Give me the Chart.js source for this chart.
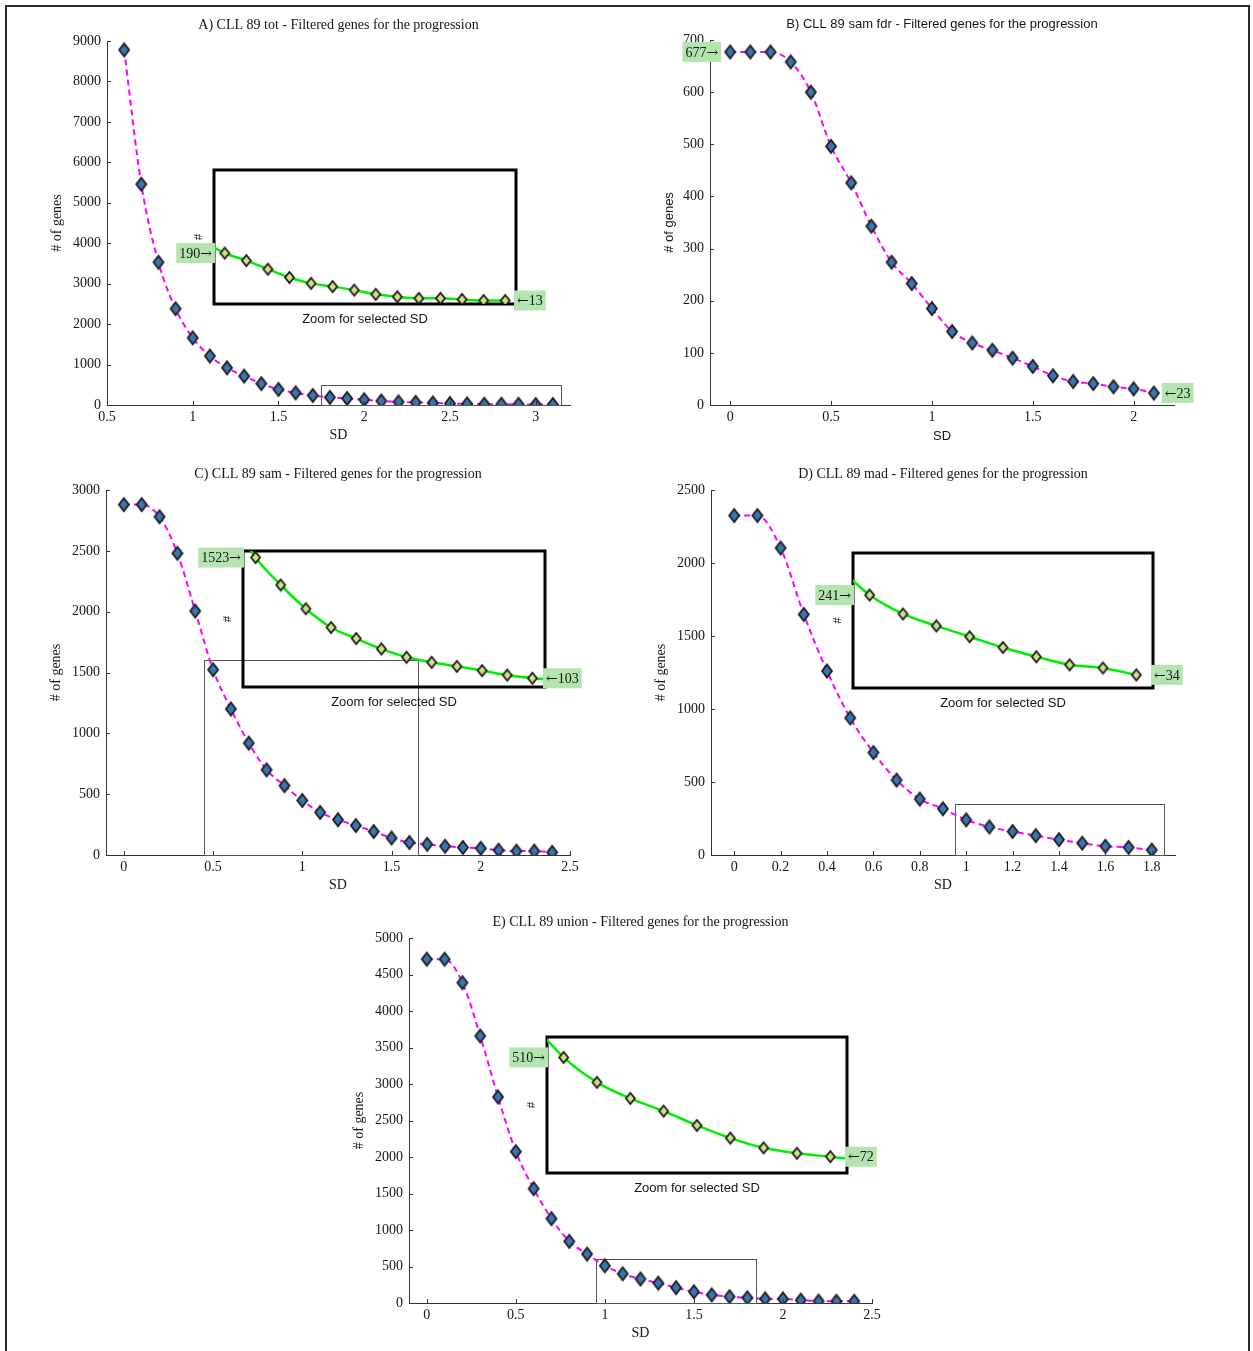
<!DOCTYPE html>
<html>
<head>
<meta charset="utf-8">
<title>CLL 89 - Filtered genes for the progression</title>
<script src="https://cdn.jsdelivr.net/npm/chart.js@4.4.1/dist/chart.umd.min.js"></script>
<style>
    body { margin: 0; background: #fff; }
    #page { position: relative; width: 1253px; height: 1351px; overflow: hidden; background: #fff; }
    #frame { position: absolute; left: 5px; top: 5px; width: 1241px; height: 1400px; border: 2px solid #2a2a2a; }
    canvas { position: absolute; }
</style>
</head>
<body>
<div id="page"><div id="frame"></div></div>
<script>
"use strict";

// ---- Data ----
// A) tot
const sdA    = [0.6, 0.7, 0.8, 0.9, 1.0, 1.1, 1.2, 1.3, 1.4, 1.5, 1.6, 1.7, 1.8, 1.9, 2.0, 2.1, 2.2, 2.3, 2.4, 2.5, 2.6, 2.7, 2.8, 2.9, 3.0, 3.1];
const genesA = [8780, 5460, 3530, 2380, 1660, 1210, 920, 715, 530, 385, 300, 235, 190, 162, 130, 99, 77, 65, 52, 36, 27, 21, 21, 17, 13, 13];
// B) sam fdr
const sdB    = [0, 0.1, 0.2, 0.3, 0.4, 0.5, 0.6, 0.7, 0.8, 0.9, 1.0, 1.1, 1.2, 1.3, 1.4, 1.5, 1.6, 1.7, 1.8, 1.9, 2.0, 2.1];
const genesB = [677, 677, 677, 658, 600, 496, 426, 343, 274, 233, 185, 141, 119, 105, 90, 74, 56, 45, 41, 35, 31, 23];
// C) sam
const sdC    = [0, 0.1, 0.2, 0.3, 0.4, 0.5, 0.6, 0.7, 0.8, 0.9, 1.0, 1.1, 1.2, 1.3, 1.4, 1.5, 1.6, 1.7, 1.8, 1.9, 2.0, 2.1, 2.2, 2.3, 2.4];
const genesC = [2880, 2880, 2780, 2480, 2005, 1523, 1200, 920, 700, 570, 448, 350, 290, 242, 193, 140, 103, 88, 72, 62, 55, 40, 32, 32, 22];
// D) mad
const sdD    = [0, 0.1, 0.2, 0.3, 0.4, 0.5, 0.6, 0.7, 0.8, 0.9, 1.0, 1.1, 1.2, 1.3, 1.4, 1.5, 1.6, 1.7, 1.8];
const genesD = [2325, 2325, 2103, 1648, 1260, 939, 702, 513, 383, 317, 241, 192, 161, 133, 105, 81, 60, 52, 34];
// E) union
const sdE    = [0, 0.1, 0.2, 0.3, 0.4, 0.5, 0.6, 0.7, 0.8, 0.9, 1.0, 1.1, 1.2, 1.3, 1.4, 1.5, 1.6, 1.7, 1.8, 1.9, 2.0, 2.1, 2.2, 2.3, 2.4];
const genesE = [4710, 4710, 4388, 3658, 2822, 2073, 1566, 1155, 845, 671, 510, 400, 329, 273, 210, 154, 111, 87, 72, 57, 55, 40, 26, 24, 24];

// Zoomed regions (x range, y range) shown in the insets
const zoomA = { x: [1.75, 3.15], y: [0, 500] };
const zoomC = { x: [0.45, 1.65], y: [0, 1600] };
const zoomD = { x: [0.95, 1.85], y: [0, 350] };
const zoomE = { x: [0.95, 1.85], y: [0, 600] };

// Tick labels
const xTicksA = [0.5, 1, 1.5, 2, 2.5, 3];
const yTicksA = [0, 1000, 2000, 3000, 4000, 5000, 6000, 7000, 8000, 9000];
const xTicksB = [0, 0.5, 1, 1.5, 2];
const yTicksB = [0, 100, 200, 300, 400, 500, 600, 700];
const xTicksC = [0, 0.5, 1, 1.5, 2, 2.5];
const yTicksC = [0, 500, 1000, 1500, 2000, 2500, 3000];
const xTicksD = [0, 0.2, 0.4, 0.6, 0.8, 1, 1.2, 1.4, 1.6, 1.8];
const yTicksD = [0, 500, 1000, 1500, 2000, 2500];
const xTicksE = [0, 0.5, 1, 1.5, 2, 2.5];
const yTicksE = [0, 500, 1000, 1500, 2000, 2500, 3000, 3500, 4000, 4500, 5000];

// ---- Styling ----
const SERIF = "'Liberation Serif', 'Times New Roman', serif";
const SANS = "'Liberation Sans', Arial, sans-serif";
const TEXT = "#151515";

// MATLAB-like diamond markers (a bit taller than wide)
function diamond(fill, w, h) {
    const c = document.createElement("canvas");
    c.width = w + 4;
    c.height = h + 4;
    const g = c.getContext("2d");
    const cx = c.width / 2, cy = c.height / 2;
    g.beginPath();
    g.moveTo(cx, cy - h / 2);
    g.lineTo(cx + w / 2, cy);
    g.lineTo(cx, cy + h / 2);
    g.lineTo(cx - w / 2, cy);
    g.closePath();
    g.fillStyle = fill;
    g.fill();
    g.lineWidth = 1.8;
    g.strokeStyle = "#1b1b1b";
    g.stroke();
    return c;
}
const blueDiamond = diamond("#3b74b2", 10, 13);
const limeDiamond = diamond("#d2e083", 9, 11);

function makeCanvas(left, top, width, height) {
    const c = document.createElement("canvas");
    c.width = width;
    c.height = height;
    c.style.left = left + "px";
    c.style.top = top + "px";
    c.style.width = width + "px";
    c.style.height = height + "px";
    document.getElementById("page").appendChild(c);
    return c;
}

// ---- Small plugins ----
const panelTitle = {
    id: "panelTitle",
    afterDraw(chart, args, opts) {
        if (!opts.text) return;
        const { ctx, chartArea } = chart;
        ctx.save();
        ctx.font = opts.font;
        ctx.fillStyle = TEXT;
        ctx.textAlign = "center";
        ctx.textBaseline = "middle";
        ctx.fillText(opts.text, (chartArea.left + chartArea.right) / 2, chartArea.top - 16);
        ctx.restore();
    }
};

// inward tick marks, like MATLAB axes
const inTicks = {
    id: "inTicks",
    afterDraw(chart) {
        const { ctx, chartArea, scales } = chart;
        ctx.save();
        ctx.strokeStyle = "#333";
        ctx.lineWidth = 1;
        ctx.beginPath();
        scales.x.ticks.forEach(t => {
            const px = Math.round(scales.x.getPixelForValue(t.value)) + 0.5;
            ctx.moveTo(px, chartArea.bottom);
            ctx.lineTo(px, chartArea.bottom - 4);
        });
        scales.y.ticks.forEach(t => {
            const py = Math.round(scales.y.getPixelForValue(t.value)) + 0.5;
            ctx.moveTo(chartArea.left, py);
            ctx.lineTo(chartArea.left + 4, py);
        });
        ctx.stroke();
        ctx.restore();
    }
};

// thin rectangle marking the zoomed region
const zoomRect = {
    id: "zoomRect",
    beforeDatasetsDraw(chart, args, opts) {
        if (!opts.x) return;
        const { ctx, scales: { x, y } } = chart;
        const x0 = x.getPixelForValue(opts.x[0]), x1 = x.getPixelForValue(opts.x[1]);
        const y0 = y.getPixelForValue(opts.y[0]), y1 = y.getPixelForValue(opts.y[1]);
        ctx.save();
        ctx.strokeStyle = "#555";
        ctx.lineWidth = 1;
        ctx.strokeRect(Math.round(x0) + 0.5, Math.round(y1) + 0.5, Math.round(x1 - x0), Math.round(y0 - y1));
        ctx.restore();
    }
};

// thick black box round the inset
const insetFrame = {
    id: "insetFrame",
    beforeDatasetsDraw(chart) {
        const { ctx, chartArea: a } = chart;
        ctx.save();
        ctx.strokeStyle = "#000";
        ctx.lineWidth = 3;
        ctx.strokeRect(a.left, a.top, a.right - a.left, a.bottom - a.top);
        ctx.restore();
    }
};

// number in Times-like font, arrow from DejaVu (wider glyph, closer to the original)
function drawTag(ctx, num, arrowFirst, x, y, alignRight) {
    const numFont = "14px " + SERIF;
    const arrowFont = "14px 'DejaVu Serif', serif";
    const arrow = arrowFirst ? "\u2190" : "\u2192";
    ctx.save();
    ctx.font = numFont;
    const wn = ctx.measureText(num).width;
    ctx.font = arrowFont;
    const wa = ctx.measureText(arrow).width;
    const w = wn + wa + 6, h = 20;
    const left = alignRight ? x - w : x;
    ctx.fillStyle = "#b4e4b0";
    ctx.fillRect(left, y - h / 2, w, h);
    ctx.fillStyle = TEXT;
    ctx.textAlign = "left";
    ctx.textBaseline = "middle";
    if (arrowFirst) {
        ctx.font = arrowFont;
        ctx.fillText(arrow, left + 3, y + 1);
        ctx.font = numFont;
        ctx.fillText(num, left + 3 + wa, y + 1);
    } else {
        ctx.font = numFont;
        ctx.fillText(num, left + 3, y + 1);
        ctx.font = arrowFont;
        ctx.fillText(arrow, left + 3 + wn, y + 1);
    }
    ctx.restore();
}

// green tags with first / last visible value
const endTags = {
    id: "endTags",
    afterDraw(chart, args, opts) {
        if (!opts.mode) return;
        const { ctx, chartArea } = chart;
        const raw = chart.data.datasets[0].data;
        const vis = chart.getDatasetMeta(0).data
            .map((pt, i) => ({ pt, v: raw[i].y }))
            .filter(o => o.pt.x >= chartArea.left - 0.5 && o.pt.x <= chartArea.right + 0.5);
        const first = vis[0], last = vis[vis.length - 1];
        let lx, rx;
        if (opts.mode === "point") {
            lx = first.pt.x - 9;
            rx = last.pt.x + 8;
        } else {
            lx = chartArea.left + 1;
            rx = chartArea.right - 2;
        }
        drawTag(ctx, String(first.v), false, lx, first.pt.y, true);
        drawTag(ctx, String(last.v), true, rx, last.pt.y, false);
    }
};

const points = (sd, genes) => sd.map((x, i) => ({ x: x, y: genes[i] }));

// ---- Main panels ----
function mainChart(p) {
    const padL = 62, padT = 30, padR = 34, padB = 46;
    const [l, t, r, b] = p.area;
    const canvas = makeCanvas(l - padL, t - padT, r - l + padL + padR, b - t + padT + padB);
    const labelFont = { family: p.sans ? SANS : SERIF, size: p.sans ? 13 : 14 };
    const tickFont = { family: SERIF, size: 14 };

    new Chart(canvas, {
        type: "line",
        data: {
            datasets: [{
                data: points(p.sd, p.genes),
                borderColor: "#ff00ff",
                borderWidth: 2,
                borderDash: [6, 4],
                cubicInterpolationMode: "monotone",
                pointStyle: blueDiamond,
                pointRadius: 6,
                fill: false
            }]
        },
        options: {
            responsive: false,
            animation: false,
            events: [],
            devicePixelRatio: 1,
            layout: { padding: { left: 0, top: padT, right: padR, bottom: 0 }, autoPadding: false },
            scales: {
                x: {
                    type: "linear",
                    min: p.xRange[0],
                    max: p.xRange[1],
                    afterBuildTicks: s => { s.ticks = p.xTicks.map(v => ({ value: v })); },
                    afterFit: s => { s.height = padB; },
                    grid: { display: false, drawTicks: false },
                    border: { color: "#333", width: 1 },
                    ticks: { font: tickFont, color: TEXT, padding: 4, autoSkip: false, maxRotation: 0, callback: v => String(v) },
                    title: { display: true, text: "SD", font: labelFont, color: TEXT, padding: { top: 0, bottom: 7 } }
                },
                y: {
                    type: "linear",
                    min: p.yTicks[0],
                    max: p.yTicks[p.yTicks.length - 1],
                    afterBuildTicks: s => { s.ticks = p.yTicks.map(v => ({ value: v })); },
                    afterFit: s => { s.width = padL; },
                    grid: { display: false, drawTicks: false },
                    border: { color: "#333", width: 1 },
                    ticks: { font: tickFont, color: TEXT, padding: 6, autoSkip: false, callback: v => String(v) },
                    title: { display: true, text: "# of genes", font: labelFont, color: TEXT, padding: { top: p.sans ? 14 : 4, bottom: 0 } }
                }
            },
            plugins: {
                legend: { display: false },
                tooltip: { enabled: false },
                panelTitle: { text: p.title, font: p.sans ? "13px " + SANS : "14px " + SERIF },
                zoomRect: p.zoom || false,
                endTags: p.tags ? { mode: "point" } : false
            }
        },
        plugins: [zoomRect, inTicks, panelTitle, endTags]
    });
}

// ---- Inset panels ----
function insetChart(p) {
    const padL = 50, padT = 6, padR = 46, padB = 30;
    const [l, t, r, b] = p.area;
    const canvas = makeCanvas(l - padL, t - padT, r - l + padL + padR, b - t + padT + padB);

    new Chart(canvas, {
        type: "line",
        data: {
            datasets: [{
                data: points(p.sd, p.genes),
                borderColor: "#00ee00",
                borderWidth: 2.5,
                cubicInterpolationMode: "monotone",
                pointStyle: limeDiamond,
                pointRadius: 6,
                fill: false
            }]
        },
        options: {
            responsive: false,
            animation: false,
            events: [],
            devicePixelRatio: 1,
            layout: { padding: { left: 0, top: padT, right: padR, bottom: 0 }, autoPadding: false },
            scales: {
                x: {
                    type: "linear",
                    min: p.zoom.x[0],
                    max: p.zoom.x[1],
                    afterFit: s => { s.height = padB; },
                    grid: { display: false, drawTicks: false },
                    border: { display: false },
                    ticks: { display: false },
                    title: { display: true, text: "Zoom for selected SD", font: { family: SANS, size: 13 }, color: TEXT, padding: { top: 0, bottom: 7 } }
                },
                y: {
                    type: "linear",
                    min: p.zoom.y[0],
                    max: p.zoom.y[1],
                    afterFit: s => { s.width = padL; },
                    grid: { display: false, drawTicks: false },
                    border: { display: false },
                    ticks: { display: false },
                    title: { display: true, text: "#", font: { family: SERIF, size: 13 }, color: TEXT, padding: { top: 27, bottom: 0 } }
                }
            },
            plugins: {
                legend: { display: false },
                tooltip: { enabled: false },
                endTags: { mode: "area" }
            }
        },
        plugins: [insetFrame, endTags]
    });
}

// plot areas: [left, top, right, bottom] in page pixels
mainChart({ title: "A) CLL 89 tot - Filtered genes for the progression", area: [107, 41, 570, 405],
    sd: sdA, genes: genesA, xRange: [0.5, 3.2], xTicks: xTicksA, yTicks: yTicksA, zoom: zoomA });
mainChart({ title: "B) CLL 89 sam fdr - Filtered genes for the progression", area: [710, 40, 1174, 405], sans: true,
    sd: sdB, genes: genesB, xRange: [-0.1, 2.2], xTicks: xTicksB, yTicks: yTicksB, tags: true });
mainChart({ title: "C) CLL 89 sam - Filtered genes for the progression", area: [106, 490, 570, 855],
    sd: sdC, genes: genesC, xRange: [-0.1, 2.5], xTicks: xTicksC, yTicks: yTicksC, zoom: zoomC });
mainChart({ title: "D) CLL 89 mad - Filtered genes for the progression", area: [711, 490, 1175, 855],
    sd: sdD, genes: genesD, xRange: [-0.1, 1.9], xTicks: xTicksD, yTicks: yTicksD, zoom: zoomD });
mainChart({ title: "E) CLL 89 union - Filtered genes for the progression", area: [409, 938, 872, 1303],
    sd: sdE, genes: genesE, xRange: [-0.1, 2.5], xTicks: xTicksE, yTicks: yTicksE, zoom: zoomE });

insetChart({ area: [214, 170, 516, 304], sd: sdA, genes: genesA, zoom: zoomA });
insetChart({ area: [243, 551, 545, 687], sd: sdC, genes: genesC, zoom: zoomC });
insetChart({ area: [853, 553, 1153, 688], sd: sdD, genes: genesD, zoom: zoomD });
insetChart({ area: [547, 1037, 847, 1173], sd: sdE, genes: genesE, zoom: zoomE });
</script>
</body>
</html>
